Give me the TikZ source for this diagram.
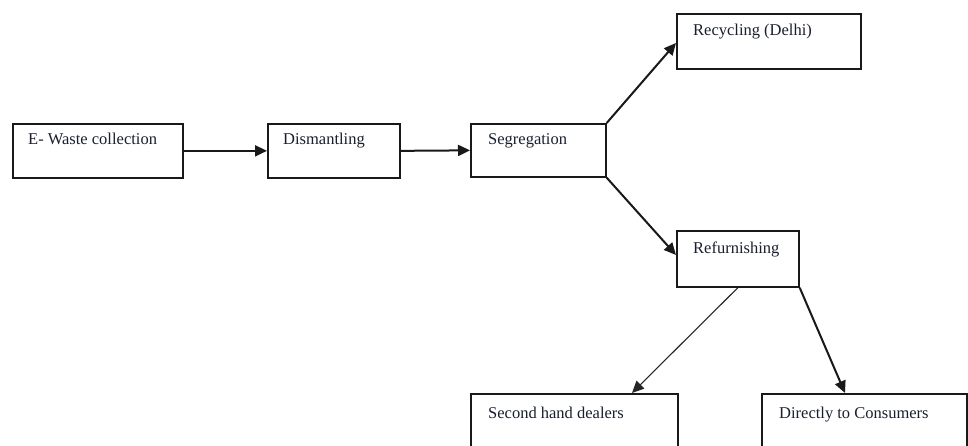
\documentclass[tikz,border=0pt]{standalone}
\usepackage{fontspec}
\setmainfont{Liberation Serif}
\usetikzlibrary{arrows.meta,calc}
\definecolor{txtcol}{HTML}{1A1F2E}
\tikzset{
  box/.style={draw=black!90, line width=1.7pt, rectangle, inner sep=0pt, anchor=north west},
  txt/.style={anchor=base west, inner sep=0pt, text=txtcol, font=\fontsize{16.5}{19}\selectfont},
  arr/.style={draw=black!90, line width=2pt, -{Triangle[length=12pt,width=11pt]}},
  thinarr/.style={draw=black!85, line width=1.1pt, -{Triangle[length=12pt,width=11pt]}}
}
\begin{document}
\begin{tikzpicture}[x=1pt,y=-1pt]
\useasboundingbox[fill=white] (0,0) rectangle (968,446);
% boxes
\node[box, minimum width=170pt, minimum height=54pt] (b1) at (12,123) {};
\node[box, minimum width=132pt, minimum height=54pt] (b2) at (267,123) {};
\node[box, minimum width=135pt, minimum height=53pt] (b3) at (470,123) {};
\node[box, minimum width=184pt, minimum height=55pt] (b4) at (676,13) {};
\node[box, minimum width=122pt, minimum height=56pt] (b5) at (676,230) {};
\node[box, minimum width=207pt, minimum height=70pt] (b6) at (470,393) {};
\node[box, minimum width=205pt, minimum height=70pt] (b7) at (761,393) {};
% texts
\node[txt] (t1) at ($(b1.north west)+(16,22)$) {E- Waste collection};
\node[txt] (t2) at ($(b2.north west)+(16,22)$) {Dismantling};
\node[txt] (t3) at ($(b3.north west)+(18,22)$) {Segregation};
\node[txt] (t4) at ($(b4.north west)+(17,23)$) {Recycling (Delhi)};
\node[txt] (t5) at ($(b5.north west)+(17,23)$) {Refurnishing};
\node[txt] (t6) at ($(b6.north west)+(18,25)$) {Second hand dealers};
\node[txt] (t7) at ($(b7.north west)+(18,25)$) {Directly to Consumers};
% connector end points
\coordinate (c6) at ($(b6.north west)+(162,0)$);
\coordinate (c7) at ($(b7.north west)+(84,0)$);
\coordinate (c4) at ($(b4.north west)+(0,30)$);
\coordinate (c5) at ($(b5.north west)+(0,25)$);
% connectors
\draw[arr] (b1.east) -- (b2.west);
\draw[arr] (b2.east) -- (b3.west);
\draw[arr] (b3.north east) -- (c4);
\draw[arr] (b3.south east) -- (c5);
\draw[thinarr] (b5.south) -- (c6);
\draw[arr] (b5.south east) -- (c7);
\end{tikzpicture}
\end{document}
